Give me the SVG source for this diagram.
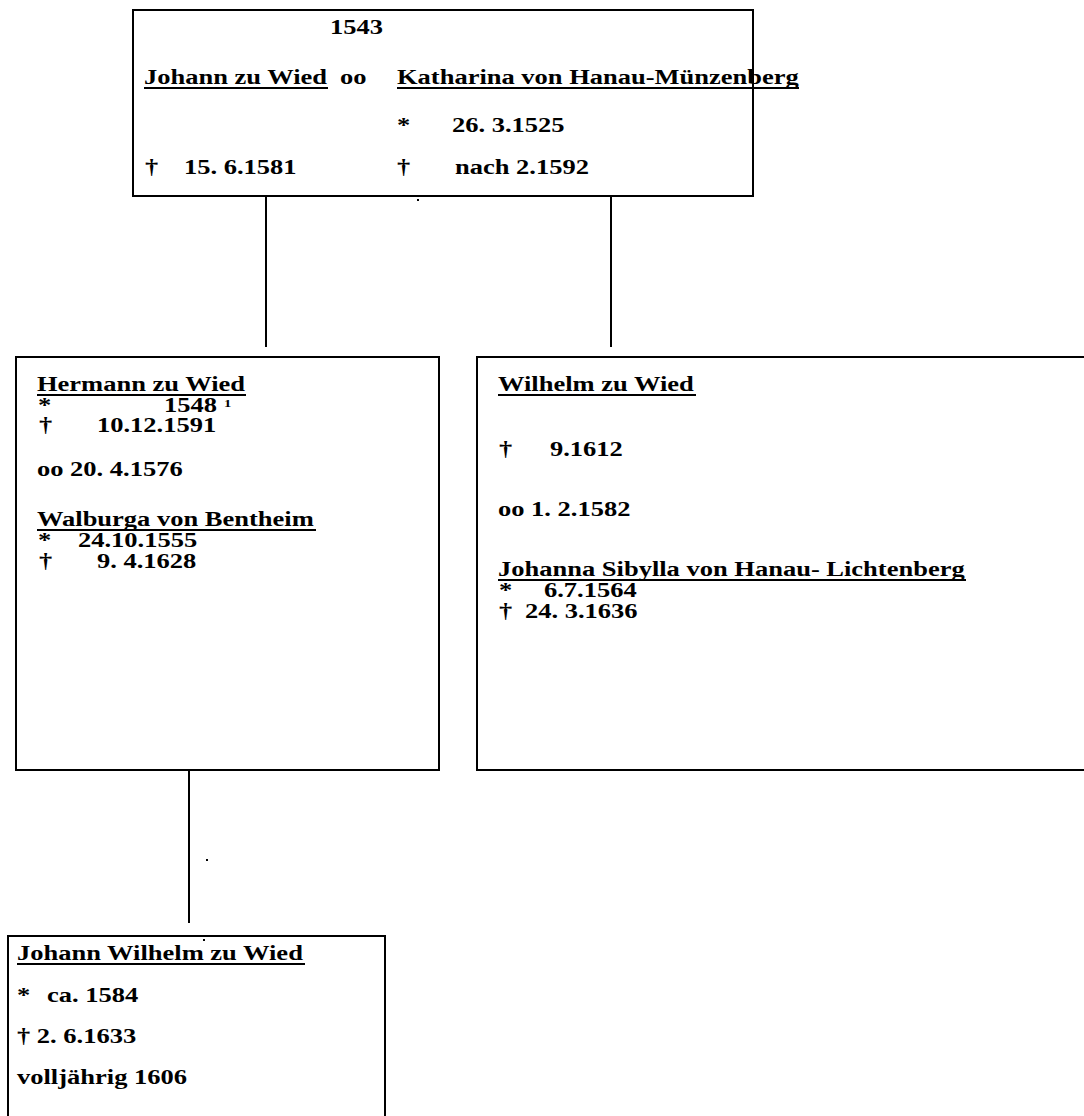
<svg xmlns="http://www.w3.org/2000/svg" width="1084" height="1116" viewBox="0 0 1084 1116">
<style>
.box{fill:#fff;stroke:#000;stroke-width:2}
.t{font-family:"Liberation Serif","Times New Roman",serif;font-weight:bold;font-size:20px;fill:#000}
.u{stroke:#000;stroke-width:2}
.c{stroke:#000;stroke-width:2;fill:none}
.sup{font-size:11px}
</style>
<rect width="1084" height="1116" fill="#fff"/>
<g id="connectors">
<line class="c" x1="266" y1="196" x2="266" y2="347"/>
<line class="c" x1="611" y1="196" x2="611" y2="347"/>
<line class="c" x1="189" y1="770" x2="189" y2="923"/>
<rect x="417" y="199" width="2" height="2" fill="#000"/>
<rect x="206" y="859" width="2" height="2" fill="#000"/>
</g>
<g id="parents">
<rect class="box" x="133" y="10" width="620" height="186"/>
<text class="t" transform="translate(330 34) scale(1.325 1)">1543</text>
<text class="t" transform="translate(144 84) scale(1.325 1)">Johann zu Wied</text>
<line class="u" x1="144" y1="88" x2="328" y2="88"/>
<text class="t" transform="translate(340 84) scale(1.325 1)">oo</text>
<text class="t" transform="translate(397 84) scale(1.325 1)">Katharina von Hanau-Münzenberg</text>
<line class="u" x1="397" y1="88" x2="799" y2="88"/>
<text class="t" transform="translate(397 132) scale(1.325 1)">*</text>
<text class="t" transform="translate(452 132) scale(1.325 1)">26. 3.1525</text>
<text class="t" transform="translate(145 174) scale(1.325 1)">†</text>
<text class="t" transform="translate(184 174) scale(1.325 1)">15. 6.1581</text>
<text class="t" transform="translate(397 174) scale(1.325 1)">†</text>
<text class="t" transform="translate(455 174) scale(1.325 1)">nach 2.1592</text>
</g>
<g id="hermann">
<rect class="box" x="16" y="357" width="423" height="413"/>
<text class="t" transform="translate(37 391) scale(1.325 1)">Hermann zu Wied</text>
<line class="u" x1="37" y1="395" x2="246" y2="395"/>
<text class="t" transform="translate(38 412) scale(1.325 1)">*</text>
<text class="t" transform="translate(164 412) scale(1.325 1)">1548</text>
<text class="t sup" transform="translate(224 407) scale(1.325 1)">1</text>
<text class="t" transform="translate(39 432) scale(1.325 1)">†</text>
<text class="t" transform="translate(97 432) scale(1.325 1)">10.12.1591</text>
<text class="t" transform="translate(37 476) scale(1.325 1)">oo 20. 4.1576</text>
<text class="t" transform="translate(37 526) scale(1.325 1)">Walburga von Bentheim</text>
<line class="u" x1="37" y1="530" x2="316" y2="530"/>
<text class="t" transform="translate(38 547) scale(1.325 1)">*</text>
<text class="t" transform="translate(78 547) scale(1.325 1)">24.10.1555</text>
<text class="t" transform="translate(39 568) scale(1.325 1)">†</text>
<text class="t" transform="translate(97 568) scale(1.325 1)">9. 4.1628</text>
</g>
<g id="wilhelm">
<rect class="box" x="477" y="357" width="620" height="413"/>
<text class="t" transform="translate(498 391) scale(1.325 1)">Wilhelm zu Wied</text>
<line class="u" x1="498" y1="395" x2="696" y2="395"/>
<text class="t" transform="translate(499 456) scale(1.325 1)">†</text>
<text class="t" transform="translate(550 456) scale(1.325 1)">9.1612</text>
<text class="t" transform="translate(498 516) scale(1.325 1)">oo 1. 2.1582</text>
<text class="t" transform="translate(498 576) scale(1.325 1)">Johanna Sibylla von Hanau- Lichtenberg</text>
<line class="u" x1="498" y1="580" x2="966" y2="580"/>
<text class="t" transform="translate(499 597) scale(1.325 1)">*</text>
<text class="t" transform="translate(544 597) scale(1.325 1)">6.7.1564</text>
<text class="t" transform="translate(499 618) scale(1.325 1)">†</text>
<text class="t" transform="translate(525 618) scale(1.325 1)">24. 3.1636</text>
</g>
<g id="johann-wilhelm">
<rect class="box" x="8" y="936" width="377" height="200"/>
<text class="t" transform="translate(17 960) scale(1.325 1)">Johann Wilhelm zu Wied</text>
<line class="u" x1="17" y1="964" x2="305" y2="964"/>
<rect x="203" y="939" width="2" height="2" fill="#000"/>
<text class="t" transform="translate(17 1002) scale(1.325 1)">*</text>
<text class="t" transform="translate(47 1002) scale(1.325 1)">ca. 1584</text>
<text class="t" transform="translate(17 1043) scale(1.325 1)">† 2. 6.1633</text>
<text class="t" transform="translate(17 1084) scale(1.325 1)">volljährig 1606</text>
</g>
</svg>
